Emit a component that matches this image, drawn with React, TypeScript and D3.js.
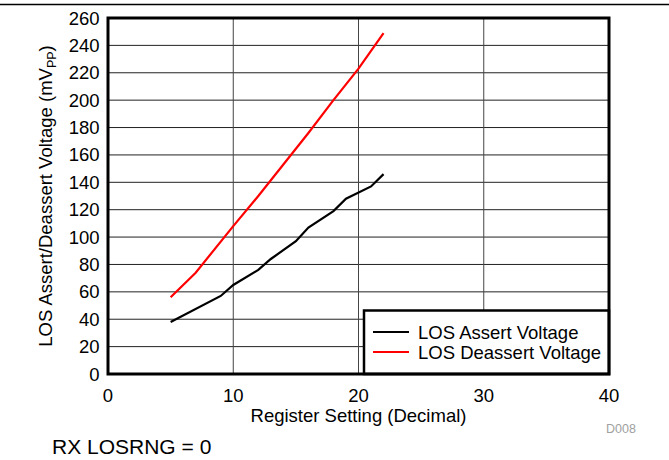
import React, { useRef, useEffect } from 'react';
import * as d3 from 'd3';

// values
const assertSetting = [5, 9, 10, 12, 13, 15, 16, 18, 19, 21, 22];
const assertVoltage = [38, 57, 65, 76, 84, 97, 107, 119, 128, 137, 146];
const deassertSetting = [5, 7, 10, 12, 14, 16, 18, 20, 22];
const deassertVoltage = [56, 74, 108, 130, 153, 176, 200, 223, 249];
const xTicks = [0, 10, 20, 30, 40];
const yTicks = d3.range(0, 261, 20);
const legendLabels = ['LOS Assert Voltage', 'LOS Deassert Voltage'];
const seriesColors = ['#000000', '#ff0000'];

const W = 669;
const H = 460;
const FONT = '"Liberation Sans", Arial, sans-serif';
const FS = 18.5;

const LosChart: React.FC = () => {
    const ref = useRef<SVGSVGElement>(null);

    useEffect(() => {
        if (!ref.current) return;
        const svg = d3.select(ref.current);
        svg.selectAll('*').remove();

        const left = 108, right = 609, top = 18, bottom = 374;
        const x = d3.scaleLinear().domain([0, 40]).range([left, right]);
        const y = d3.scaleLinear().domain([0, 260]).range([bottom, top]);

        // rule across the top of the page
        svg.append('line')
            .attr('x1', 0).attr('x2', W).attr('y1', 4.5).attr('y2', 4.5)
            .attr('stroke', '#000').attr('stroke-width', 1.5);

        // grid
        svg.append('g').selectAll('line')
            .data(yTicks.slice(1, -1))
            .enter().append('line')
            .attr('x1', left).attr('x2', right)
            .attr('y1', d => y(d)).attr('y2', d => y(d))
            .attr('stroke', '#222').attr('stroke-width', 1);
        svg.append('g').selectAll('line')
            .data(xTicks.slice(1, -1))
            .enter().append('line')
            .attr('y1', top).attr('y2', bottom)
            .attr('x1', d => x(d)).attr('x2', d => x(d))
            .attr('stroke', '#444').attr('stroke-width', 1);

        // series
        const line = d3.line<[number, number]>()
            .x(d => x(d[0]))
            .y(d => y(d[1]));
        const series: [number, number][][] = [
            d3.zip(assertSetting, assertVoltage) as [number, number][],
            d3.zip(deassertSetting, deassertVoltage) as [number, number][],
        ];
        svg.append('g').selectAll('path')
            .data(series)
            .enter().append('path')
            .attr('d', d => line(d))
            .attr('fill', 'none')
            .attr('stroke', (d, i) => seriesColors[i])
            .attr('stroke-width', 2.2);

        // legend
        const lg = svg.append('g');
        lg.append('rect')
            .attr('x', 364).attr('y', 310.5)
            .attr('width', right - 364).attr('height', bottom - 310.5)
            .attr('fill', '#fff').attr('stroke', '#000').attr('stroke-width', 2.5);
        legendLabels.forEach((label, i) => {
            const ly = 332 + i * 20;
            lg.append('line')
                .attr('x1', 373).attr('x2', 409).attr('y1', ly).attr('y2', ly)
                .attr('stroke', seriesColors[i]).attr('stroke-width', 2.2);
            lg.append('text')
                .attr('x', 418).attr('y', ly + 6.5)
                .attr('font-family', FONT).attr('font-size', FS)
                .text(label);
        });

        // plot frame
        svg.append('rect')
            .attr('x', left).attr('y', top)
            .attr('width', right - left).attr('height', bottom - top)
            .attr('fill', 'none').attr('stroke', '#000').attr('stroke-width', 3);

        // tick labels
        svg.append('g').selectAll('text')
            .data(yTicks)
            .enter().append('text')
            .attr('x', 99.5).attr('y', d => y(d) + 6.5)
            .attr('text-anchor', 'end')
            .attr('font-family', FONT).attr('font-size', FS)
            .text(d => d);
        svg.append('g').selectAll('text')
            .data(xTicks)
            .enter().append('text')
            .attr('x', d => x(d)).attr('y', 402)
            .attr('text-anchor', 'middle')
            .attr('font-family', FONT).attr('font-size', FS)
            .text(d => d);

        // axis titles
        svg.append('text')
            .attr('x', (left + right) / 2).attr('y', 422)
            .attr('text-anchor', 'middle')
            .attr('font-family', FONT).attr('font-size', FS)
            .text('Register Setting (Decimal)');

        const yt = svg.append('text')
            .attr('transform', 'translate(52,196) rotate(-90)')
            .attr('text-anchor', 'middle')
            .attr('font-family', FONT).attr('font-size', FS);
        yt.append('tspan').text('LOS Assert/Deassert Voltage (mV');
        yt.append('tspan').attr('font-size', 12.5).attr('dy', 4).text('PP');
        yt.append('tspan').attr('dy', -4).text(')');

        svg.append('text')
            .attr('x', 606).attr('y', 433)
            .attr('font-family', FONT).attr('font-size', 12.5)
            .attr('fill', '#a0a0a0')
            .text('D008');

        svg.append('text')
            .attr('x', 52).attr('y', 454)
            .attr('font-family', FONT).attr('font-size', 21)
            .text('RX LOSRNG = 0');
    }, []);

    return <svg ref={ref} width={W} height={H} style={{ position: 'absolute', left: 0, top: 0, background: '#fff' }}></svg>;
};

export default function App() {
    return <LosChart />;
}
